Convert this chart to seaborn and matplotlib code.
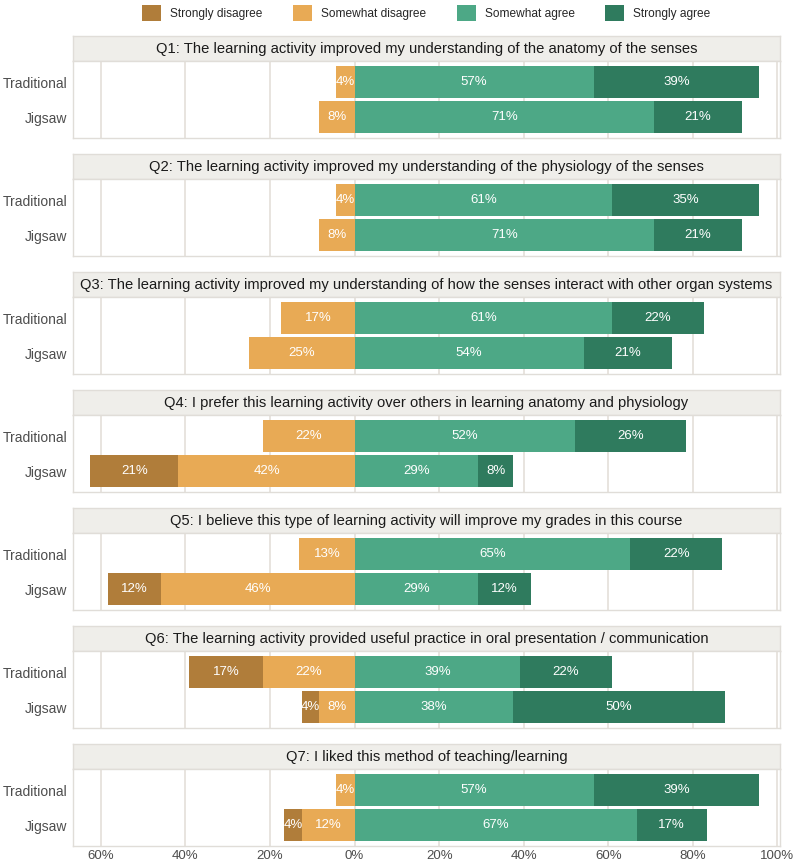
import numpy as np
import pandas as pd
import matplotlib
matplotlib.use("Agg")
import matplotlib.pyplot as plt
from matplotlib.patches import Patch
import seaborn as sns

# Survey data (percent of respondents)
questions = [
    "Q1: The learning activity improved my understanding of the anatomy of the senses",
    "Q2: The learning activity improved my understanding of the physiology of the senses",
    "Q3: The learning activity improved my understanding of how the senses interact with other organ systems",
    "Q4: I prefer this learning activity over others in learning anatomy and physiology",
    "Q5: I believe this type of learning activity will improve my grades in this course",
    "Q6: The learning activity provided useful practice in oral presentation / communication",
    "Q7: I liked this method of teaching/learning",
]
groups = ["Traditional", "Jigsaw"]
levels = ["Strongly disagree", "Somewhat disagree", "Somewhat agree", "Strongly agree"]
colors = ["#B07D3A", "#E8AA55", "#4DA886", "#2F7B5E"]

# values per question: [Traditional, Jigsaw]
strongly_disagree = [[0, 0], [0, 0], [0, 0], [0, 20.83], [0, 12.5], [17.39, 4.17], [0, 4.17]]
somewhat_disagree = [[4.35, 8.33], [4.35, 8.33], [17.39, 25.0], [21.74, 41.67], [13.04, 45.83],
                     [21.74, 8.33], [4.35, 12.5]]
somewhat_agree = [[56.52, 70.83], [60.87, 70.83], [60.87, 54.17], [52.17, 29.17], [65.22, 29.17],
                  [39.13, 37.5], [56.52, 66.67]]
strongly_agree = [[39.13, 20.83], [34.78, 20.83], [21.74, 20.83], [26.09, 8.33], [21.74, 12.5],
                  [21.74, 50.0], [39.13, 16.67]]

xticks = [-60, -40, -20, 0, 20, 40, 60, 80, 100]

sns.set_theme(style="white")
plt.rcParams["font.family"] = ["Liberation Sans", "DejaVu Sans"]

W, H = 794, 867
fig = plt.figure(figsize=(W / 100, H / 100), dpi=100)

grid_col = "#E6E2DC"
strip_bg = "#EFEEEA"
left_px, width_px = 73, 707
strip_top0, period, strip_h, panel_h = 36, 118, 25, 77

for k, q in enumerate(questions):
    df = pd.DataFrame({
        "group": groups,
        "sd": strongly_disagree[k],
        "swd": somewhat_disagree[k],
        "swa": somewhat_agree[k],
        "sa": strongly_agree[k],
    })
    top = strip_top0 + period * k
    # strip
    sax = fig.add_axes([left_px / W, 1 - (top + strip_h) / H, width_px / W, strip_h / H])
    sax.set_facecolor(strip_bg)
    sax.set_xticks([])
    sax.set_yticks([])
    for s in sax.spines.values():
        s.set_color("#E0DDD8")
        s.set_linewidth(1)
    sax.text(0.5, 0.48, q, ha="center", va="center", fontsize=10.6, color="#1a1a1a",
             transform=sax.transAxes)

    ax = fig.add_axes([left_px / W, 1 - (top + strip_h + panel_h) / H, width_px / W, panel_h / H])
    for xv in xticks:
        ax.axvline(xv, color=grid_col, lw=1.3, zorder=0)

    # cumulative overlay bars: negative side then positive side
    df["neg_outer"] = -(df["sd"] + df["swd"])
    df["neg_inner"] = -df["swd"]
    df["pos_outer"] = df["swa"] + df["sa"]
    df["pos_inner"] = df["swa"]
    for col, c in [("neg_outer", colors[0]), ("neg_inner", colors[1]),
                   ("pos_outer", colors[3]), ("pos_inner", colors[2])]:
        sns.barplot(data=df, x=col, y="group", order=groups, orient="h", color=c,
                    width=0.9, linewidth=0, saturation=1, errorbar=None, ax=ax, zorder=2)

    # segment labels
    for i, row in df.iterrows():
        segs = [(-(row["sd"] + row["swd"]), row["sd"]), (-row["swd"], row["swd"]),
                (0, row["swa"]), (row["swa"], row["sa"])]
        for start, v in segs:
            if v > 0:
                ax.text(start + v / 2, i, f"{round(v)}%", ha="center", va="center",
                        color="white", fontsize=9.5, zorder=3)

    ax.set_xlim(-66.6, 100.6)
    ax.set_ylim(1.6, -0.6)
    ax.set_xlabel("")
    ax.set_ylabel("")
    ax.set_xticks(xticks)
    if k == len(questions) - 1:
        ax.set_xticklabels([f"{abs(t)}%" for t in xticks], fontsize=9.5, color="#4d4d4d")
    else:
        ax.set_xticklabels([])
    ax.tick_params(axis="both", length=0, pad=3)
    ax.tick_params(axis="y", labelsize=10, labelcolor="#4d4d4d", pad=4)
    for s in ax.spines.values():
        s.set_color("#E0DDD8")
        s.set_linewidth(1)

# legend centred over the panels, not the whole figure
handles = [Patch(facecolor=c, edgecolor="none", label=l) for c, l in zip(colors, levels)]
fig.legend(handles=handles, loc="center", bbox_to_anchor=((left_px + width_px / 2) / W, 1 - 13 / H),
           ncol=4, frameon=False, fontsize=8.6, handlelength=1.6, handleheight=1.6,
           columnspacing=2.55, handletextpad=0.75, borderaxespad=0)

fig.savefig("out.png", dpi=100)
